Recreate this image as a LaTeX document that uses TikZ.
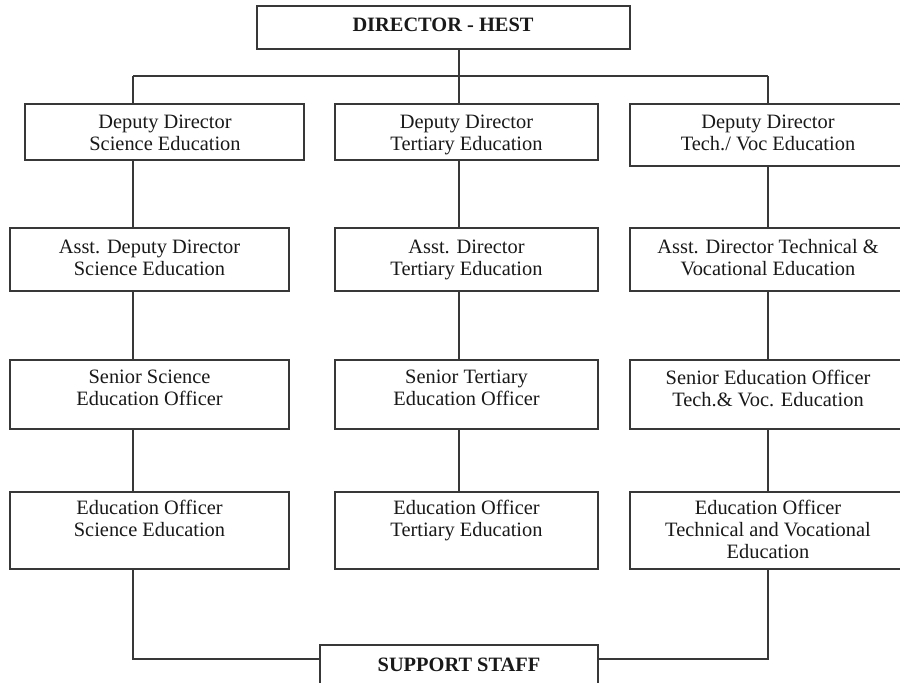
\documentclass[tikz,border=0pt]{standalone}
\usepackage{fontspec}
\setmainfont{Liberation Serif}
\begin{document}
\begin{tikzpicture}[x=1pt,y=-1pt,
  box/.style={draw=black!78,line width=1.6pt,rectangle,inner sep=0pt,fill=white},
  txt/.style={inner sep=0pt,align=center,text=black!90,font=\fontsize{20.4pt}{22pt}\selectfont},
  btxt/.style={txt,font=\fontsize{20.4pt}{22pt}\selectfont\bfseries},
  link/.style={draw=black!78,line width=1.6pt}]
\useasboundingbox (0,0) rectangle (900,683);
\fill[white] (0,0) rectangle (900,683);
\begin{scope}
\clip (0,0) rectangle (900,683);
% column lines
\coordinate (cL) at (133,76);
\coordinate (cM) at (459,76);
\coordinate (cR) at (768,76);
% boxes
\node[box,minimum width=373pt,minimum height=43pt] (dir) at (443.5,27.5) {};
\node[box,minimum width=279pt,minimum height=56pt] (dL) at (164.5,132) {};
\node[box,minimum width=263pt,minimum height=56pt] (dM) at (466.5,132) {};
\node[box,minimum width=276pt,minimum height=62pt] (dR) at (768,135) {};
\node[box,minimum width=279pt,minimum height=63pt] (aL) at (149.5,259.5) {};
\node[box,minimum width=263pt,minimum height=63pt] (aM) at (466.5,259.5) {};
\node[box,minimum width=276pt,minimum height=63pt] (aR) at (768,259.5) {};
\node[box,minimum width=279pt,minimum height=69pt] (sL) at (149.5,394.5) {};
\node[box,minimum width=263pt,minimum height=69pt] (sM) at (466.5,394.5) {};
\node[box,minimum width=276pt,minimum height=69pt] (sR) at (768,394.5) {};
\node[box,minimum width=279pt,minimum height=77pt] (eL) at (149.5,530.5) {};
\node[box,minimum width=263pt,minimum height=77pt] (eM) at (466.5,530.5) {};
\node[box,minimum width=276pt,minimum height=77pt] (eR) at (768,530.5) {};
\node[box,minimum width=278pt,minimum height=60pt] (sup) at (459,675) {};
% texts
\node[btxt] (dirT) at (443,25) {DIRECTOR - HEST};
\node[txt] (dLT) at (165,133) {Deputy Director\\Science Education};
\node[txt] (dMT) at (466.5,135) {Deputy Director\\Tertiary Education};
\node[txt] (dRT) at (768,133) {Deputy Director\\Tech./ Voc Education};
\node[txt] (aLT) at (149.5,257.5) {Asst. Deputy Director\\Science Education};
\node[txt] (aMT) at (466.5,259.5) {Asst. Director\\Tertiary Education};
\node[txt] (aRT) at (768,257.5) {Asst. Director Technical \&\\Vocational Education};
\node[txt] (sLT) at (149.5,388) {Senior Science\\Education Officer};
\node[txt] (sMT) at (466.5,388) {Senior Tertiary\\Education Officer};
\node[txt] (sRT) at (768,388) {Senior Education Officer\\Tech.\& Voc. Education};
\node[txt] (eLT) at (149.5,529.5) {Education Officer\\Science Education\\\mbox{}};
\node[txt] (eMT) at (466.5,529.5) {Education Officer\\Tertiary Education\\\mbox{}};
\node[txt] (eRT) at (768,529.5) {Education Officer\\Technical and Vocational\\Education};
\node[btxt] (supT) at (459,665) {SUPPORT STAFF};
% connectors
\draw[link] (dir.south -| cM) -- (dM.north -| cM);
\draw[link] (cL) -- (cR);
\draw[link] (cL) -- (dL.north -| cL);
\draw[link] (cR) -- (dR.north -| cR);
\draw[link] (dL.south -| cL) -- (aL.north -| cL);
\draw[link] (aL.south -| cL) -- (sL.north -| cL);
\draw[link] (sL.south -| cL) -- (eL.north -| cL);
\draw[link] (dM.south -| cM) -- (aM.north -| cM);
\draw[link] (aM.south -| cM) -- (sM.north -| cM);
\draw[link] (sM.south -| cM) -- (eM.north -| cM);
\draw[link] (dR.south -| cR) -- (aR.north -| cR);
\draw[link] (aR.south -| cR) -- (sR.north -| cR);
\draw[link] (sR.south -| cR) -- (eR.north -| cR);
\coordinate (jL) at (133,659);
\coordinate (jR) at (768,659);
\draw[link] (eL.south -| cL) -- (jL) -- (jL -| sup.west);
\draw[link] (eR.south -| cR) -- (jR) -- (jR -| sup.east);
\end{scope}
\end{tikzpicture}
\end{document}
